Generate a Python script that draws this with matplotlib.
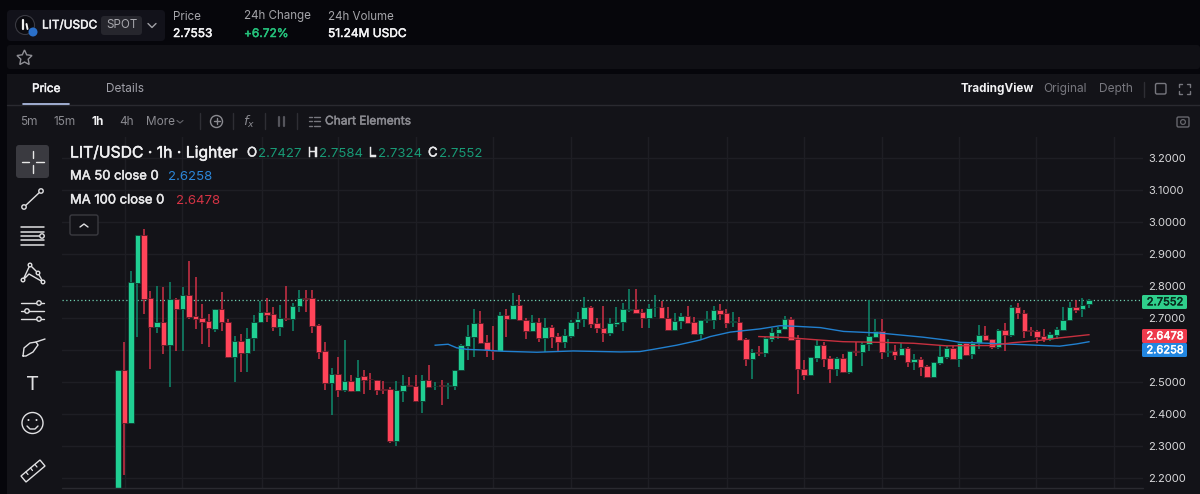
import matplotlib
matplotlib.use("Agg")
import matplotlib.pyplot as plt
import matplotlib.patheffects as pe
from matplotlib.patches import Rectangle, FancyBboxPatch, Circle, Polygon

plt.rcParams['font.family'] = ['Inter', 'DejaVu Sans']

opens = [2.150,2.537,2.371,2.810,2.958,2.761,2.671,2.689,2.615,2.758,
 2.729,2.771,2.706,2.701,2.691,2.667,2.729,2.689,2.579,2.627,
 2.591,2.638,2.687,2.718,2.712,2.671,2.701,2.696,2.739,2.761,
 2.761,2.677,2.597,2.497,2.524,2.475,2.502,2.472,2.518,2.510,
 2.505,2.477,2.477,2.317,2.473,2.490,2.487,2.442,2.505,2.487,
 2.490,2.488,2.489,2.537,2.614,2.642,2.683,2.624,2.600,2.598,
 2.710,2.696,2.740,2.695,2.659,2.686,2.639,2.673,2.643,2.626,
 2.645,2.687,2.696,2.735,2.683,2.670,2.654,2.680,2.687,2.725,
 2.728,2.719,2.699,2.734,2.735,2.701,2.663,2.691,2.706,2.687,
 2.650,2.694,2.694,2.725,2.717,2.688,2.689,2.635,2.573,2.594,
 2.590,2.635,2.653,2.666,2.698,2.635,2.542,2.521,2.576,2.615,
 2.575,2.540,2.575,2.531,2.596,2.595,2.618,2.641,2.659,2.593,
 2.597,2.584,2.605,2.562,2.572,2.551,2.516,2.559,2.579,2.605,
 2.573,2.621,2.586,2.622,2.646,2.634,2.608,2.664,2.647,2.735,
 2.717,2.661,2.659,2.643,2.635,2.648,2.663,2.693,2.735,2.727,2.7427]
closes = [2.537,2.371,2.811,2.958,2.760,2.671,2.689,2.615,2.758,2.729,
 2.771,2.704,2.698,2.689,2.668,2.729,2.686,2.578,2.627,2.591,
 2.639,2.689,2.718,2.710,2.671,2.700,2.696,2.739,2.761,2.760,
 2.675,2.595,2.497,2.524,2.475,2.502,2.472,2.516,2.505,2.509,
 2.475,2.476,2.315,2.474,2.490,2.488,2.441,2.505,2.485,2.489,
 2.487,2.490,2.539,2.615,2.643,2.683,2.622,2.599,2.598,2.710,
 2.696,2.740,2.693,2.660,2.686,2.639,2.673,2.641,2.626,2.646,
 2.689,2.698,2.735,2.680,2.668,2.654,2.683,2.689,2.728,2.727,
 2.717,2.699,2.731,2.735,2.699,2.662,2.691,2.706,2.684,2.650,
 2.694,2.696,2.725,2.714,2.684,2.690,2.631,2.573,2.593,2.590,
 2.637,2.655,2.667,2.697,2.631,2.540,2.521,2.577,2.615,2.573,
 2.540,2.575,2.530,2.596,2.595,2.619,2.643,2.659,2.593,2.596,
 2.583,2.605,2.562,2.572,2.548,2.516,2.561,2.580,2.605,2.573,
 2.621,2.584,2.623,2.646,2.631,2.608,2.664,2.648,2.735,2.715,
 2.660,2.658,2.641,2.634,2.649,2.665,2.694,2.735,2.726,2.740,2.7552]
highs = [2.537,2.624,2.848,2.958,2.977,2.784,2.800,2.796,2.811,2.764,
 2.796,2.879,2.827,2.743,2.712,2.729,2.781,2.698,2.643,2.649,
 2.668,2.710,2.753,2.764,2.733,2.740,2.800,2.746,2.787,2.787,
 2.787,2.680,2.625,2.545,2.579,2.631,2.521,2.569,2.537,2.527,
 2.505,2.502,2.484,2.502,2.521,2.515,2.521,2.521,2.554,2.499,
 2.505,2.497,2.539,2.619,2.677,2.728,2.722,2.647,2.675,2.719,
 2.728,2.778,2.772,2.699,2.708,2.699,2.699,2.677,2.652,2.665,
 2.694,2.719,2.766,2.738,2.699,2.738,2.699,2.735,2.747,2.791,
 2.791,2.728,2.744,2.772,2.753,2.735,2.715,2.715,2.738,2.702,
 2.694,2.722,2.738,2.744,2.728,2.719,2.704,2.637,2.602,2.613,
 2.642,2.668,2.673,2.705,2.702,2.646,2.570,2.579,2.631,2.625,
 2.581,2.579,2.588,2.596,2.625,2.625,2.756,2.696,2.696,2.634,
 2.615,2.621,2.609,2.588,2.579,2.552,2.564,2.614,2.614,2.613,
 2.625,2.625,2.628,2.677,2.674,2.634,2.667,2.684,2.740,2.747,
 2.725,2.671,2.663,2.665,2.657,2.671,2.735,2.750,2.756,2.763,2.7584]
lows = [2.150,2.209,2.371,2.642,2.711,2.540,2.654,2.588,2.485,2.598,
 2.598,2.696,2.667,2.618,2.610,2.656,2.659,2.576,2.500,2.530,
 2.532,2.598,2.683,2.686,2.659,2.643,2.691,2.659,2.718,2.718,
 2.652,2.573,2.475,2.398,2.453,2.469,2.469,2.472,2.463,2.475,
 2.460,2.463,2.310,2.301,2.439,2.486,2.439,2.404,2.485,2.475,
 2.428,2.447,2.475,2.537,2.570,2.578,2.620,2.578,2.570,2.598,
 2.641,2.696,2.690,2.635,2.659,2.625,2.594,2.606,2.597,2.606,
 2.638,2.665,2.671,2.668,2.653,2.625,2.644,2.671,2.660,2.718,
 2.717,2.668,2.668,2.704,2.699,2.662,2.660,2.665,2.684,2.650,
 2.631,2.684,2.665,2.693,2.668,2.671,2.631,2.551,2.509,2.581,
 2.578,2.625,2.635,2.663,2.631,2.463,2.506,2.518,2.564,2.548,
 2.497,2.518,2.527,2.524,2.581,2.551,2.597,2.637,2.573,2.577,
 2.568,2.583,2.548,2.537,2.518,2.515,2.515,2.552,2.571,2.571,
 2.548,2.581,2.573,2.604,2.628,2.602,2.602,2.598,2.641,2.696,
 2.638,2.644,2.623,2.626,2.628,2.633,2.660,2.693,2.715,2.702,2.7324]

ma50_idx = [49,51,52.3,53.9,56.4,59.5,64.7,70.3,77.6,80.6,82.7,86.3,89.9,91.5,94.6,99.2,102.3,
            104.8,108.5,112.1,117.7,120.8,124.4,128,130.1,133.2,138.3,141.9,145.5,148.1,150]
ma50_val = [2.615,2.618,2.607,2.602,2.600,2.596,2.593,2.597,2.594,2.595,2.602,2.615,2.631,2.642,2.656,2.666,2.676,
            2.674,2.670,2.658,2.653,2.647,2.640,2.631,2.624,2.622,2.618,2.615,2.612,2.619,2.6258]
ma100_idx = [99,103.3,108.5,112,117.7,122.9,128,134.7,138.3,141.9,145.5,150]
ma100_val = [2.642,2.639,2.631,2.626,2.624,2.621,2.613,2.614,2.623,2.629,2.638,2.6478]

price_ticks = [2.2,2.3,2.4,2.5,2.6,2.7,2.8,2.9,3.0,3.1,3.2]
shown_ticks = [2.2,2.3,2.4,2.5,2.7,2.8,2.9,3.0,3.1,3.2]
last_price = 2.7552
ma50_last = 2.6258
ma100_last = 2.6478

BG = '#06060b'; PANEL = '#131318'; GRID = '#1e1e24'
UP = '#20cf92'; DOWN = '#ff4459'; UPW = '#0f8a6c'; DOWNW = '#cf3046'
W = 1200; H = 494
fig = plt.figure(figsize=(12, 4.94), dpi=100, facecolor=BG)

# background panels, under the chart
bg = fig.add_axes([0, 0, 1, 1], facecolor='none', zorder=0)
bg.set_xlim(0, W); bg.set_ylim(H, 0); bg.axis('off')
bg.add_patch(Rectangle((7, 74), 1193, 420, fc=PANEL, ec='none'))

# chart pane
L, R, T, B = 62, 1143, 137, 488
STEP = 6.473; X0 = 118
ax = fig.add_axes([L/W, (H-B)/H, (R-L)/W, (B-T)/H], facecolor=PANEL, zorder=1)
ax.set_xlim((L-X0)/STEP, (R-X0)/STEP)
ax.set_ylim(3.2-(B-158)/320, 3.2-(T-158)/320)
for s in ax.spines.values():
    s.set_visible(False)
ax.set_yticks(price_ticks)
labels = ax.set_yticklabels([f'{v:.4f}' if v in shown_ticks else '' for v in price_ticks],
                   color='#d8d8da', fontsize=8)
MEDIUM = [pe.withStroke(linewidth=0.35, foreground='#d8d8da')]
for t in labels:
    t.set_path_effects(MEDIUM)
ax.yaxis.tick_right()
ax.tick_params(axis='y', length=0, pad=4)
vgrid_px = [125,182,262,338,416,493,571,648,727,804,882,959,1036,1114]
ax.set_xticks([(p-X0)/STEP for p in vgrid_px])
ax.tick_params(axis='x', length=0, labelbottom=False)
ax.grid(True, color=GRID, lw=1)
ax.set_axisbelow(True)

idx = list(range(len(opens)))
for i in idx:
    up = closes[i] >= opens[i]
    ax.vlines(i, lows[i], highs[i], color=UPW if up else DOWNW, lw=1.1, zorder=2)
    lo, hi = min(opens[i], closes[i]), max(opens[i], closes[i])
    ax.bar(i, max(hi-lo, 0.0015), bottom=lo, width=0.84, color=UP if up else DOWN,
           edgecolor='#0f3a30' if up else '#5a1c28', lw=0.6, zorder=3)
ax.plot(ma50_idx, ma50_val, color='#2180cf', lw=1.0, zorder=4)
ax.plot(ma100_idx, ma100_val, color='#c7303f', lw=1.0, zorder=4)
ax.axhline(last_price, color='#6fd0b0', lw=0.9, ls=(0, (1, 2)), zorder=1)

# UI overlay
ov = fig.add_axes([0, 0, 1, 1], facecolor='none', zorder=2)
ov.set_xlim(0, W); ov.set_ylim(H, 0); ov.axis('off')

def rrect(x0, y0, x1, y1, fc, ec='none', r=3, z=1, lw=1):
    ov.add_patch(FancyBboxPatch((x0+r, y0+r), x1-x0-2*r, y1-y0-2*r,
                 boxstyle=f'round,pad={r},rounding_size={r}', fc=fc, ec=ec, lw=lw, zorder=z))
def txt(x, y, s, c='#e8e8ea', fs=8.5, w='normal', ha='left'):
    t = ov.text(x, y, s, color=c, fontsize=fs, fontweight='bold' if w == 'bold' else 'normal',
                ha=ha, va='center', zorder=6)
    if w == 'medium':
        t.set_path_effects([pe.withStroke(linewidth=0.35, foreground=c)])
def ln(xs, ys, c='#d0d0d2', lw=1.0):
    ov.plot(xs, ys, color=c, lw=lw, zorder=5, solid_capstyle='round')

ln([62, 1143], [488, 488], '#2a2a30', 1)
ln([7, 1200], [105.5, 105.5], '#2a2a30', 1)

# top bar
rrect(7, 10, 165, 41, '#12121a', r=4)
ov.add_patch(Circle((25, 25), 9.5, fc='#0b0b10', ec='#3a3a42', lw=0.8, zorder=3))
ln([23, 23], [20, 29], '#f0f0f0', 1.6); ln([26.5, 27.5], [24, 29], '#f0f0f0', 1.4)
ov.add_patch(Circle((33, 32), 4.5, fc='#2a6fc9', zorder=4))
txt(42, 25.5, 'LIT/USDC', '#f0f0f2', 8.5, 'medium')
rrect(101, 16, 142, 35, '#26262d', r=3, z=2)
txt(121.5, 25.5, 'SPOT', '#a8a8ae', 8.4, ha='center')
ln([148, 152, 156], [23.5, 27.5, 23.5], '#a0a0a6', 1)
txt(173, 16.5, 'Price', '#a5a5aa', 8.35)
txt(173, 34, '2.7553', '#f5f5f7', 8.6, 'medium')
txt(244, 16.5, '24h Change', '#a5a5aa', 8.35)
txt(244, 34, '+6.72%', '#25c27c', 8.6, 'medium')
txt(328, 16.5, '24h Volume', '#a5a5aa', 8.35)
txt(328, 34, '51.24M USDC', '#f5f5f7', 8.6, 'medium')

# favourites bar
rrect(7, 45, 1200, 69, '#101015', r=3)
ov.add_patch(Polygon([(24.5, 50), (26.7, 54.8), (32, 55.5), (28.2, 59.2), (29.2, 64.5),
                      (24.5, 62), (19.8, 64.5), (20.8, 59.2), (17, 55.5), (22.3, 54.8)],
                     closed=True, fc='none', ec='#8f8f95', lw=1, zorder=5))

# tabs
txt(32, 89, 'Price', '#f2f2f4', 8.5, 'medium')
ln([23, 69], [104.5, 104.5], '#b8c8f0', 1.2)
txt(106, 89, 'Details', '#a0a0a8', 8.5)
txt(961, 89, 'TradingView', '#f2f2f4', 8.4, 'bold')
txt(1043, 89, 'Original', '#77777e', 8.6)
txt(1099, 89, 'Depth', '#77777e', 8.6)
ln([1144, 1144], [82, 97], '#2e2e34', 1)
rrect(1155.5, 83.5, 1166, 94, 'none', ec='#77777e', r=1.5, z=5)
for cx, cy, dx, dy in [(1179, 84, 1, 1), (1190, 84, -1, 1), (1179, 94, 1, -1), (1190, 94, -1, -1)]:
    ln([cx, cx, cx+3*dx], [cy+3*dy, cy, cy], '#77777e', 1)

# toolbar
for x, s, c, wt in [(20, '5m', '#8a8a90', 'normal'), (53, '15m', '#8a8a90', 'normal'),
                    (91, '1h', '#f2f2f4', 'bold'), (119, '4h', '#8a8a90', 'normal'),
                    (146, 'More', '#8a8a90', 'normal')]:
    txt(x, 121.5, s, c, 8.5, wt)
ln([177, 180, 183], [120.5, 123, 120.5], '#66666c', 0.8)
for x in [200, 233, 265, 297]:
    ln([x, x], [113, 129], '#2e2e34', 1)
ov.add_patch(Circle((216.5, 121.5), 6, fc='none', ec='#8a8a90', lw=1, zorder=5))
ln([213.5, 219.5], [121.5, 121.5], '#8a8a90', 1); ln([216.5, 216.5], [118.5, 124.5], '#8a8a90', 1)
txt(243, 121.5, r'$f_{x}$', '#8a8a90', 9.5)
ln([279, 279], [117, 126], '#55555c', 1.6); ln([283.5, 283.5], [117, 126], '#55555c', 1.6)
for y in [117, 121.5, 126]:
    ln([309, 312], [y, y], '#77777e', 1); ln([314, 320], [y, y], '#77777e', 1)
txt(325, 121.5, 'Chart Elements', '#8a8a90', 8.6, 'medium')
rrect(1177, 117, 1189, 127, 'none', ec='#66666c', r=1.5, z=5)
ov.add_patch(Circle((1183, 122), 2.4, fc='none', ec='#66666c', lw=0.9, zorder=5))

# left drawing tools
rrect(16, 145, 49, 178, '#3a3a40', r=3, z=2)
ln([21.5, 29], [162, 162], '#e8e8e8', 1); ln([36, 43.5], [162, 162], '#e8e8e8', 1)
ln([32.5, 32.5], [151, 158.5], '#e8e8e8', 1); ln([32.5, 32.5], [165.5, 173], '#e8e8e8', 1)
ln([24, 41], [207, 191], '#e0e0e2', 1)
for p in [(24, 207), (41, 191)]:
    ov.add_patch(Circle(p, 2.2, fc=PANEL, ec='#e0e0e2', lw=1, zorder=6))
for y in [227, 232, 240, 245]:
    ln([21, 44], [y, y], '#e0e0e2', 1.1)
ov.add_patch(Circle((42, 236), 2.2, fc=PANEL, ec='#e0e0e2', lw=1, zorder=6))
ln([21, 44], [236, 236], '#e0e0e2', 1.1)
pts = [(23, 280), (30, 265), (38, 273), (43, 282), (29, 274)]
ln([p[0] for p in pts]+[pts[0][0]], [p[1] for p in pts]+[pts[0][1]], '#e0e0e2', 1)
for p in pts[:4]:
    ov.add_patch(Circle(p, 1.8, fc=PANEL, ec='#e0e0e2', lw=1, zorder=6))
for y, cx in [(303, 39), (311, 27), (319, 39)]:
    ln([21, 44], [y, y], '#e0e0e2', 1)
    ov.add_patch(Circle((cx, y), 2.2, fc=PANEL, ec='#e0e0e2', lw=1, zorder=6))
ln([23, 24, 30, 36, 38, 33, 26, 23], [356, 348, 343, 342, 345, 352, 356, 356], '#e0e0e2', 1)
ln([36, 45], [342, 339], '#e0e0e2', 1)
txt(32.5, 385, 'T', '#e0e0e2', 14.5, ha='center')
ov.add_patch(Circle((32.5, 423), 10.5, fc='none', ec='#e0e0e2', lw=1, zorder=5))
ov.add_patch(Circle((28.5, 420), 1, fc='#e0e0e2', zorder=5))
ov.add_patch(Circle((36.5, 420), 1, fc='#e0e0e2', zorder=5))
ln([27, 30, 35, 38], [426, 429, 429, 426], '#e0e0e2', 1)
ov.add_patch(Polygon([(21, 476), (40, 460), (45, 466), (26, 482)], closed=True,
                     fc='none', ec='#e0e0e2', lw=1, zorder=5))
for x, y in [(26, 472), (30.5, 468), (35, 464.5)]:
    ln([x, x+2], [y, y+2.5], '#e0e0e2', 0.9)

# legend
txt(70, 153, 'LIT/USDC · 1h · Lighter', '#f0f0f2', 11.3, 'medium')
GREEN = '#189a76'
for xl, l, xv, v in [(247, 'O', 258, '2.7427'), (308, 'H', 319, '2.7584'),
                     (369, 'L', 378, '2.7324'), (428, 'C', 439, '2.7552')]:
    txt(xl, 153.5, l, '#e8e8ea', 9.5, 'medium')
    txt(xv, 153.5, v, GREEN, 9.5)
txt(70, 176.5, 'MA 50 close 0', '#e8e8ea', 9.35, 'medium')
txt(168, 176.5, f'{ma50_last:.4f}', '#2b86d8', 9.5)
txt(70, 200.5, 'MA 100 close 0', '#e8e8ea', 9.35, 'medium')
txt(176, 200.5, f'{ma100_last:.4f}', '#d43344', 9.5)
rrect(70, 215, 98, 235, PANEL, ec='#3a3a40', r=2, z=5)
ln([80, 84, 88], [227, 224, 227], '#e0e0e2', 1)

# price tags
for y0, y1, c, v, tc in [(295, 309, '#2fcf8c', last_price, '#0a2a1e'),
                         (329, 343, '#ee3a4c', ma100_last, '#ffffff'),
                         (343, 357, '#2286e0', ma50_last, '#ffffff')]:
    rrect(1142, y0, 1187, y1, c, r=1.5, z=5)
    txt(1165, (y0+y1)/2+0.3, f'{v:.4f}', tc, 8, 'medium', ha='center')

fig.savefig('out.png', dpi=100, facecolor=BG)
